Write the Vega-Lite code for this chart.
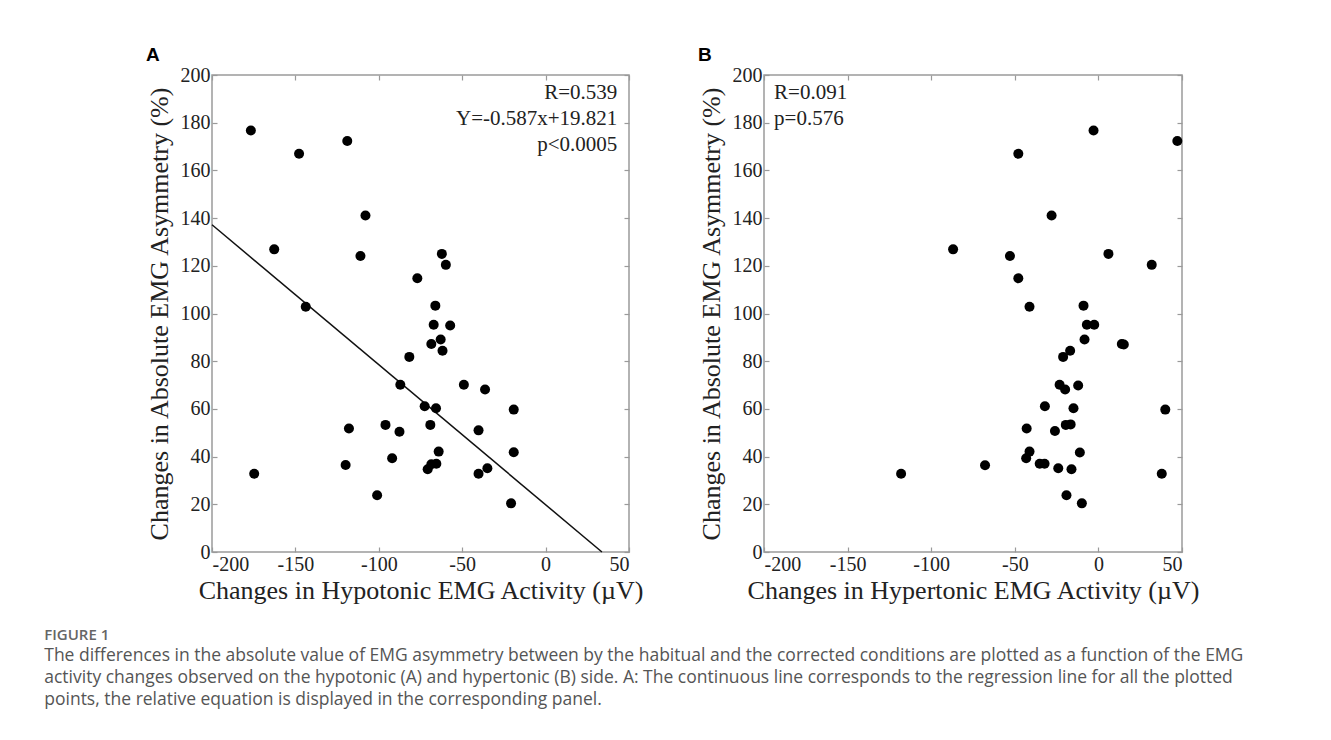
{
  "$schema": "https://vega.github.io/schema/vega-lite/v6.json",
  "background": "white",
  "padding": {"left": 44, "top": 45, "right": 0, "bottom": 20},
  "datasets": {
    "hypo": [
      {"emg": -176.7, "asym": 176.7}, {"emg": -118.9, "asym": 172.3}, {"emg": -147.8, "asym": 167.0},
      {"emg": -108.0, "asym": 141.1}, {"emg": -162.7, "asym": 126.9}, {"emg": -111.0, "asym": 124.1},
      {"emg": -62.2, "asym": 125.0}, {"emg": -59.8, "asym": 120.4}, {"emg": -76.9, "asym": 114.8},
      {"emg": -143.8, "asym": 102.8}, {"emg": -66.1, "asym": 103.3}, {"emg": -67.1, "asym": 95.3},
      {"emg": -57.2, "asym": 95.0}, {"emg": -68.5, "asym": 87.2}, {"emg": -62.9, "asym": 89.1},
      {"emg": -61.8, "asym": 84.4}, {"emg": -81.7, "asym": 81.8}, {"emg": -87.1, "asym": 70.1},
      {"emg": -49.0, "asym": 70.1}, {"emg": -36.3, "asym": 68.1}, {"emg": -72.5, "asym": 61.1},
      {"emg": -65.7, "asym": 60.3}, {"emg": -19.1, "asym": 59.7}, {"emg": -117.9, "asym": 51.8},
      {"emg": -96.0, "asym": 53.3}, {"emg": -87.6, "asym": 50.4}, {"emg": -69.1, "asym": 53.3},
      {"emg": -40.2, "asym": 51.0}, {"emg": -92.0, "asym": 39.3}, {"emg": -64.1, "asym": 42.1},
      {"emg": -19.1, "asym": 41.8}, {"emg": -119.9, "asym": 36.5}, {"emg": -70.7, "asym": 34.7},
      {"emg": -68.5, "asym": 36.8}, {"emg": -65.5, "asym": 37.0}, {"emg": -174.7, "asym": 32.8},
      {"emg": -40.2, "asym": 32.8}, {"emg": -34.9, "asym": 35.1}, {"emg": -101.0, "asym": 23.8},
      {"emg": -20.7, "asym": 20.4}
    ],
    "hyper": [
      {"emg": -2.9, "asym": 176.7}, {"emg": 47.2, "asym": 172.3}, {"emg": -47.9, "asym": 167.0},
      {"emg": -28.0, "asym": 141.1}, {"emg": -86.9, "asym": 126.9}, {"emg": -52.9, "asym": 124.1},
      {"emg": 6.0, "asym": 125.0}, {"emg": 31.9, "asym": 120.4}, {"emg": -47.9, "asym": 114.8},
      {"emg": -41.2, "asym": 102.8}, {"emg": -8.9, "asym": 103.3}, {"emg": -6.9, "asym": 95.3},
      {"emg": -2.5, "asym": 95.3}, {"emg": 14.0, "asym": 87.2}, {"emg": 15.2, "asym": 87.0},
      {"emg": -8.3, "asym": 89.1}, {"emg": -16.9, "asym": 84.4}, {"emg": -21.1, "asym": 81.8},
      {"emg": -23.2, "asym": 70.1}, {"emg": -12.1, "asym": 69.8}, {"emg": -19.9, "asym": 68.1},
      {"emg": -32.0, "asym": 61.1}, {"emg": -14.9, "asym": 60.3}, {"emg": 40.0, "asym": 59.7},
      {"emg": -42.9, "asym": 51.8}, {"emg": -19.5, "asym": 53.3}, {"emg": -16.6, "asym": 53.5},
      {"emg": -26.0, "asym": 50.7}, {"emg": -41.2, "asym": 42.1}, {"emg": -43.2, "asym": 39.3},
      {"emg": -11.1, "asym": 41.7}, {"emg": -35.1, "asym": 37.0}, {"emg": -32.2, "asym": 37.0},
      {"emg": -67.8, "asym": 36.4}, {"emg": -118.0, "asym": 32.8}, {"emg": -24.0, "asym": 35.1},
      {"emg": -16.1, "asym": 34.7}, {"emg": 37.9, "asym": 32.8}, {"emg": -19.1, "asym": 23.8},
      {"emg": -9.9, "asym": 20.4}
    ],
    "fitA": [{"emg": -200, "asym": 137.221}, {"emg": 33.767, "asym": 0}]
  },
  "title": {
    "text": "FIGURE 1",
    "subtitle": [
      "The differences in the absolute value of EMG asymmetry between by the habitual and the corrected conditions are plotted as a function of the EMG",
      "activity changes observed on the hypotonic (A) and hypertonic (B) side. A: The continuous line corresponds to the regression line for all the plotted",
      "points, the relative equation is displayed in the corresponding panel."
    ],
    "orient": "bottom",
    "anchor": "start",
    "frame": "bounds",
    "dx": -101,
    "offset": 24,
    "font": "Open Sans",
    "fontSize": 15,
    "fontWeight": 600,
    "color": "#666666",
    "subtitleFont": "Open Sans",
    "subtitleFontSize": 17.5,
    "subtitleColor": "#555555",
    "subtitleLineHeight": 22,
    "subtitlePadding": 4
  },
  "spacing": 52,
  "hconcat": [
    {
      "title": {"text": "A", "anchor": "start", "frame": "bounds", "font": "Liberation Sans", "fontSize": 19, "fontWeight": "bold", "color": "#000000", "offset": 0},
      "width": 417,
      "height": 477,
      "layer": [
        {
          "data": {"name": "hypo"},
          "mark": {"type": "point", "opacity": 0},
          "encoding": {
            "x": {"field": "emg", "type": "quantitative", "scale": {"domain": [-200, 50], "nice": false, "zero": false},
                  "axis": {"orient": "top", "labels": false, "title": null, "values": [-200, -150, -100, -50, 0, 50]}},
            "y": {"field": "asym", "type": "quantitative", "scale": {"domain": [0, 200], "nice": false},
                  "axis": {"orient": "right", "labels": false, "title": null, "values": [0, 20, 40, 60, 80, 100, 120, 140, 160, 180, 200]}}
          }
        },
        {
          "data": {"name": "fitA"},
          "mark": {"type": "line", "color": "#111111", "strokeWidth": 1.5},
          "encoding": {
            "x": {"field": "emg", "type": "quantitative", "axis": null},
            "y": {"field": "asym", "type": "quantitative", "axis": null}
          }
        },
        {
          "data": {"name": "hypo"},
          "mark": {"type": "circle", "size": 100, "color": "#000000", "opacity": 1},
          "encoding": {
            "x": {"field": "emg", "type": "quantitative",
                  "axis": {"title": "Changes in Hypotonic EMG Activity (µV)", "values": [-200, -150, -100, -50, 0, 50], "labelExpr": "toString(datum.value)"}},
            "y": {"field": "asym", "type": "quantitative",
                  "axis": {"title": "Changes in Absolute EMG Asymmetry (%)", "values": [0, 20, 40, 60, 80, 100, 120, 140, 160, 180, 200]}}
          }
        },
        {
          "data": {"values": [{}]},
          "mark": {"type": "text", "text": ["R=0.539", "Y=-0.587x+19.821", "p<0.0005"], "align": "right", "baseline": "top", "lineHeight": 26, "font": "Liberation Serif", "fontSize": 21, "color": "#222222"},
          "encoding": {
            "x": {"datum": 43, "type": "quantitative", "axis": null},
            "y": {"datum": 197, "type": "quantitative", "axis": null}
          }
        }
      ],
      "resolve": {"axis": {"x": "independent", "y": "independent"}}
    },
    {
      "title": {"text": "B", "anchor": "start", "frame": "bounds", "font": "Liberation Sans", "fontSize": 19, "fontWeight": "bold", "color": "#000000", "offset": 0},
      "width": 418,
      "height": 477,
      "layer": [
        {
          "data": {"name": "hyper"},
          "mark": {"type": "point", "opacity": 0},
          "encoding": {
            "x": {"field": "emg", "type": "quantitative", "scale": {"domain": [-200, 50], "nice": false, "zero": false},
                  "axis": {"orient": "top", "labels": false, "title": null, "values": [-200, -150, -100, -50, 0, 50]}},
            "y": {"field": "asym", "type": "quantitative", "scale": {"domain": [0, 200], "nice": false},
                  "axis": {"orient": "right", "labels": false, "title": null, "values": [0, 20, 40, 60, 80, 100, 120, 140, 160, 180, 200]}}
          }
        },
        {
          "data": {"name": "hyper"},
          "mark": {"type": "circle", "size": 100, "color": "#000000", "opacity": 1},
          "encoding": {
            "x": {"field": "emg", "type": "quantitative",
                  "axis": {"title": "Changes in Hypertonic EMG Activity (µV)", "values": [-200, -150, -100, -50, 0, 50], "labelExpr": "toString(datum.value)"}},
            "y": {"field": "asym", "type": "quantitative",
                  "axis": {"title": "Changes in Absolute EMG Asymmetry (%)", "values": [0, 20, 40, 60, 80, 100, 120, 140, 160, 180, 200]}}
          }
        },
        {
          "data": {"values": [{}]},
          "mark": {"type": "text", "text": ["R=0.091", "p=0.576"], "align": "left", "baseline": "top", "lineHeight": 26, "font": "Liberation Serif", "fontSize": 21, "color": "#222222"},
          "encoding": {
            "x": {"datum": -194, "type": "quantitative", "axis": null},
            "y": {"datum": 197, "type": "quantitative", "axis": null}
          }
        }
      ],
      "resolve": {"axis": {"x": "independent", "y": "independent"}}
    }
  ],
  "config": {
    "view": {"stroke": "#9a9a9a", "strokeWidth": 1.5},
    "axis": {
      "domain": false,
      "grid": false,
      "tickColor": "#9a9a9a",
      "tickSize": -5,
      "tickWidth": 1.2,
      "labelPadding": 7,
      "labelFont": "Liberation Serif",
      "labelFontSize": 20,
      "labelColor": "#222222",
      "titleFont": "Liberation Serif",
      "titleFontSize": 26,
      "titleFontWeight": "normal",
      "titleColor": "#222222"
    },
    "axisX": {"titlePadding": 3},
    "axisY": {"titlePadding": 8}
  }
}
